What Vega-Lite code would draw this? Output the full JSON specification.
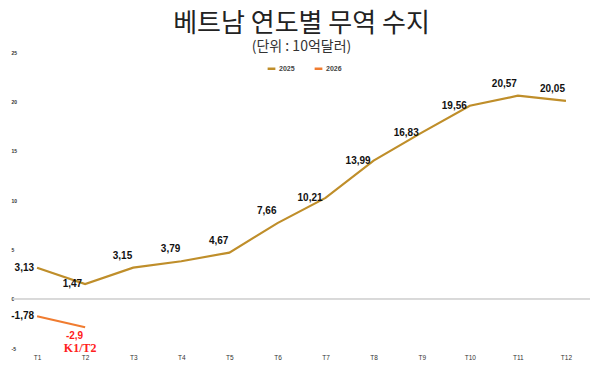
{
  "$schema": "https://vega.github.io/schema/vega-lite/v6.json",
  "width": 577,
  "height": 296,
  "autosize": {"type": "none"},
  "padding": {"left": 13, "top": 52, "right": 10, "bottom": 31},
  "background": "white",
  "config": {
    "view": {"stroke": null},
    "locale": {"number": {"decimal": ",", "thousands": ".", "grouping": [3], "currency": ["", ""], "minus": "-"}},
    "font": "Liberation Sans"
  },
  "title": {
    "text": "베트남  연도별  무역  수지",
    "subtitle": "(단위 : 10억달러)",
    "font": "Noto Sans CJK KR",
    "subtitleFont": "Noto Sans CJK KR",
    "fontSize": 26,
    "fontWeight": "normal",
    "subtitleFontSize": 14,
    "color": "#222222",
    "subtitleColor": "#333333",
    "anchor": "middle",
    "frame": "group",
    "offset": -4,
    "subtitlePadding": 3
  },
  "data": {
    "values": [
      {"month": "T1", "year": "2025", "value": 3.13},
      {"month": "T2", "year": "2025", "value": 1.47},
      {"month": "T3", "year": "2025", "value": 3.15},
      {"month": "T4", "year": "2025", "value": 3.79},
      {"month": "T5", "year": "2025", "value": 4.67},
      {"month": "T6", "year": "2025", "value": 7.66},
      {"month": "T7", "year": "2025", "value": 10.21},
      {"month": "T8", "year": "2025", "value": 13.99},
      {"month": "T9", "year": "2025", "value": 16.83},
      {"month": "T10", "year": "2025", "value": 19.56},
      {"month": "T11", "year": "2025", "value": 20.57},
      {"month": "T12", "year": "2025", "value": 20.05},
      {"month": "T1", "year": "2026", "value": -1.78},
      {"month": "T2", "year": "2026", "value": -2.9}
    ]
  },
  "encoding": {
    "x": {
      "field": "month", "type": "ordinal",
      "sort": ["T1","T2","T3","T4","T5","T6","T7","T8","T9","T10","T11","T12"],
      "scale": {"paddingInner": 0, "paddingOuter": 0.5},
      "axis": {"title": null, "domain": false, "ticks": false, "labelAngle": 0, "labelFontSize": 6.5, "labelFontWeight": "normal", "labelColor": "#333333", "labelPadding": 6}
    },
    "y": {
      "field": "value", "type": "quantitative",
      "scale": {"domain": [-5, 25], "nice": false},
      "axis": {"title": null, "domain": false, "ticks": false, "grid": false, "values": [-5, 0, 5, 10, 15, 20, 25], "labelFontSize": 5, "labelFontWeight": "bold", "labelColor": "#333333", "labelPadding": 2, "labelAlign": "left", "labelOffset": 0}
    }
  },
  "layer": [
    {
      "mark": {"type": "rule", "color": "#d9d9d9", "strokeWidth": 1},
      "encoding": {"y": {"datum": 0}, "x": null}
    },
    {
      "mark": {"type": "line", "strokeWidth": 2.2},
      "encoding": {
        "color": {
          "field": "year", "type": "nominal",
          "scale": {"domain": ["2025", "2026"], "range": ["#BF8E2A", "#F07C30"]},
          "legend": {"title": null, "orient": "none", "direction": "horizontal", "legendX": 253, "legendY": 11, "labelFontSize": 7, "labelFontWeight": "bold", "labelColor": "#444444", "symbolType": "stroke", "symbolSize": 60, "symbolStrokeWidth": 2.5, "columnPadding": 14, "labelOffset": 2}
        }
      }
    },
    {
      "transform": [{"filter": "indexof(['T1','T2','T7','T8','T9','T10'], datum.month) >= 0 && datum.year == '2025'"}],
      "mark": {"type": "text", "align": "right", "baseline": "middle", "dx": -3, "fontSize": 10, "fontWeight": "bold", "color": "#111111"},
      "encoding": {"text": {"field": "value", "type": "quantitative", "format": ".2~f"}}
    },
    {
      "transform": [{"filter": "indexof(['T3','T4','T5','T6','T11','T12'], datum.month) >= 0 && datum.year == '2025'"}],
      "mark": {"type": "text", "align": "right", "baseline": "middle", "dx": -1, "dy": -12, "fontSize": 10, "fontWeight": "bold", "color": "#111111"},
      "encoding": {"text": {"field": "value", "type": "quantitative", "format": ".2~f"}}
    },
    {
      "transform": [{"filter": "datum.year == '2026' && datum.month == 'T1'"}],
      "mark": {"type": "text", "align": "right", "baseline": "middle", "dx": -3, "fontSize": 10, "fontWeight": "bold", "color": "#111111"},
      "encoding": {"text": {"field": "value", "type": "quantitative", "format": ".2~f"}}
    },
    {
      "transform": [{"filter": "datum.year == '2026' && datum.month == 'T2'"}],
      "mark": {"type": "text", "align": "right", "baseline": "middle", "dx": -2, "dy": 9, "fontSize": 10, "fontWeight": "bold", "color": "#FF1A1A"},
      "encoding": {"text": {"field": "value", "type": "quantitative", "format": ".2~f"}}
    },
    {
      "transform": [{"filter": "datum.year == '2026' && datum.month == 'T2'"}],
      "mark": {"type": "text", "align": "center", "baseline": "middle", "dx": -5, "dy": 21, "fontSize": 12, "fontWeight": "bold", "font": "Liberation Serif", "color": "#FF2020", "text": "K1/T2"}
    }
  ]
}
